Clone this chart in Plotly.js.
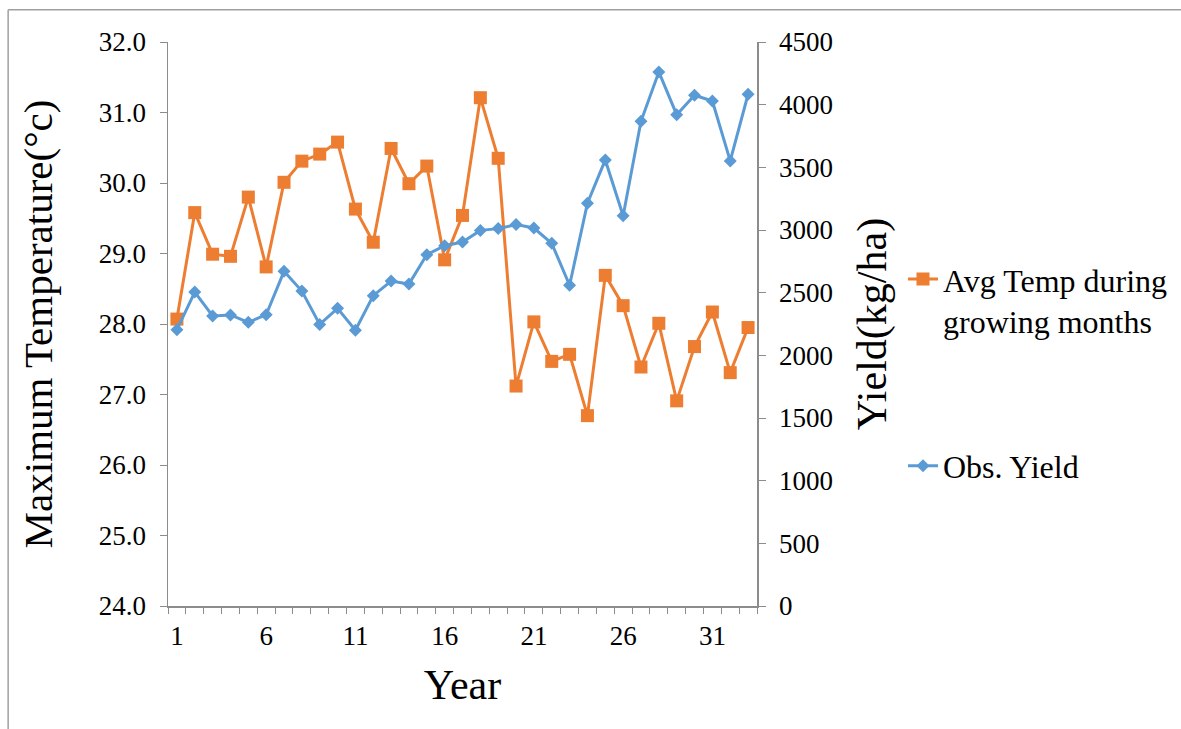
<!DOCTYPE html>
<html>
<head>
<meta charset="utf-8">
<script src="https://cdn.plot.ly/plotly-3.0.1.min.js"></script>
<style>html,body{margin:0;padding:0;background:#fff;}#chart{width:1181px;height:729px;}</style>
</head>
<body>
<div id="chart"></div>
<script>
const years = [1,2,3,4,5,6,7,8,9,10,11,12,13,14,15,16,17,18,19,20,21,22,23,24,25,26,27,28,29,30,31,32,33];
const avgTemp = [28.07,29.58,28.99,28.96,29.80,28.81,30.01,30.31,30.41,30.58,29.63,29.16,30.49,29.99,30.24,28.91,29.54,31.21,30.35,27.12,28.03,27.47,27.57,26.70,28.69,28.26,27.39,28.01,26.91,27.68,28.17,27.31,27.95];
const obsYield = [2205,2505,2314,2322,2263,2324,2670,2513,2247,2375,2200,2476,2593,2569,2803,2875,2904,2997,3011,3043,3016,2894,2559,3213,3559,3114,3867,4261,3920,4075,4029,3551,4083];
const xTickVals = [1,6,11,16,21,26,31];
const xMinorVals = [0.5,1.5,2.5,3.5,4.5,5.5,6.5,7.5,8.5,9.5,10.5,11.5,12.5,13.5,14.5,15.5,16.5,17.5,18.5,19.5,20.5,21.5,22.5,23.5,24.5,25.5,26.5,27.5,28.5,29.5,30.5,31.5,32.5,33.5];

const FONT = "'Liberation Serif'";
const AXC = '#8c8c8c';

const traces = [
  {
    x: years, y: avgTemp, name: 'Avg Temp during<br>growing months',
    type: 'scatter', mode: 'lines+markers', yaxis: 'y', legend: 'legend',
    line: {color: '#ED7D31', width: 3},
    marker: {symbol: 'square', size: 13, color: '#ED7D31'}
  },
  {
    x: years, y: obsYield, name: 'Obs. Yield',
    type: 'scatter', mode: 'lines+markers', yaxis: 'y2', legend: 'legend2',
    line: {color: '#5B9BD5', width: 3},
    marker: {symbol: 'diamond', size: 10, color: '#5B9BD5'}
  }
];

const layout = {
  width: 1181, height: 729,
  margin: {l: 168, r: 423.5, t: 42, b: 123, autoexpand: false},
  paper_bgcolor: '#fff', plot_bgcolor: '#fff',
  font: {family: FONT, color: '#000'},
  showlegend: true,
  xaxis: {
    range: [0.5, 33.5], tickmode: 'array', tickvals: xTickVals, ticktext: xTickVals.map(String),
    ticks: '', showgrid: false, zeroline: false,
    showline: true, linecolor: AXC, linewidth: 1.5,
    tickfont: {size: 27, family: FONT}, ticklabelstandoff: 5,
    minor: {tickmode: 'array', tickvals: xMinorVals, ticks: 'outside', ticklen: 6, tickcolor: AXC, tickwidth: 1, showgrid: false},
    title: {text: 'Year', font: {size: 42, family: FONT}, standoff: 19},
    fixedrange: true
  },
  yaxis: {
    range: [24, 32], dtick: 1, tick0: 24, tickformat: '.1f',
    ticks: 'outside', ticklen: 7, tickcolor: AXC, tickwidth: 1,
    showgrid: false, zeroline: false, showline: true, linecolor: AXC, linewidth: 1.5,
    tickfont: {size: 27, family: FONT}, ticklabelstandoff: 8,
    title: {text: 'Maximum Temperature(°c)', font: {size: 41, family: FONT}, standoff: 33},
    fixedrange: true
  },
  yaxis2: {
    range: [0, 4500], dtick: 500, tick0: 0, overlaying: 'y', side: 'right',
    ticks: 'outside', ticklen: 7, tickcolor: AXC, tickwidth: 1,
    showgrid: false, zeroline: false, showline: true, linecolor: AXC, linewidth: 1.5,
    tickfont: {size: 27, family: FONT}, ticklabelstandoff: 8,
    title: {text: 'Yield(kg/ha)', font: {size: 42, family: FONT}, standoff: 24},
    fixedrange: true
  },
  legend: {
    xref: 'container', yref: 'container',
    x: 0.7646, xanchor: 'left', y: 0.6546, yanchor: 'top', valign: 'top',
    font: {size: 32, family: FONT}, bgcolor: 'rgba(0,0,0,0)', borderwidth: 0
  },
  legend2: {
    xref: 'container', yref: 'container',
    x: 0.7646, xanchor: 'left', y: 0.3985, yanchor: 'top', valign: 'top',
    font: {size: 32, family: FONT}, bgcolor: 'rgba(0,0,0,0)', borderwidth: 0
  },
  shapes: [
    {type: 'line', xref: 'paper', yref: 'paper', x0: -0.2714, x1: 1.72, y0: 1.057, y1: 1.057, line: {color: '#a0a0a0', width: 1.5}},
    {type: 'line', xref: 'paper', yref: 'paper', x0: -0.2714, x1: -0.2714, y0: 1.057, y1: -0.22, line: {color: '#a0a0a0', width: 1.5}}
  ]
};

Plotly.newPlot('chart', traces, layout, {displayModeBar: false, staticPlot: true});
</script>
</body>
</html>
